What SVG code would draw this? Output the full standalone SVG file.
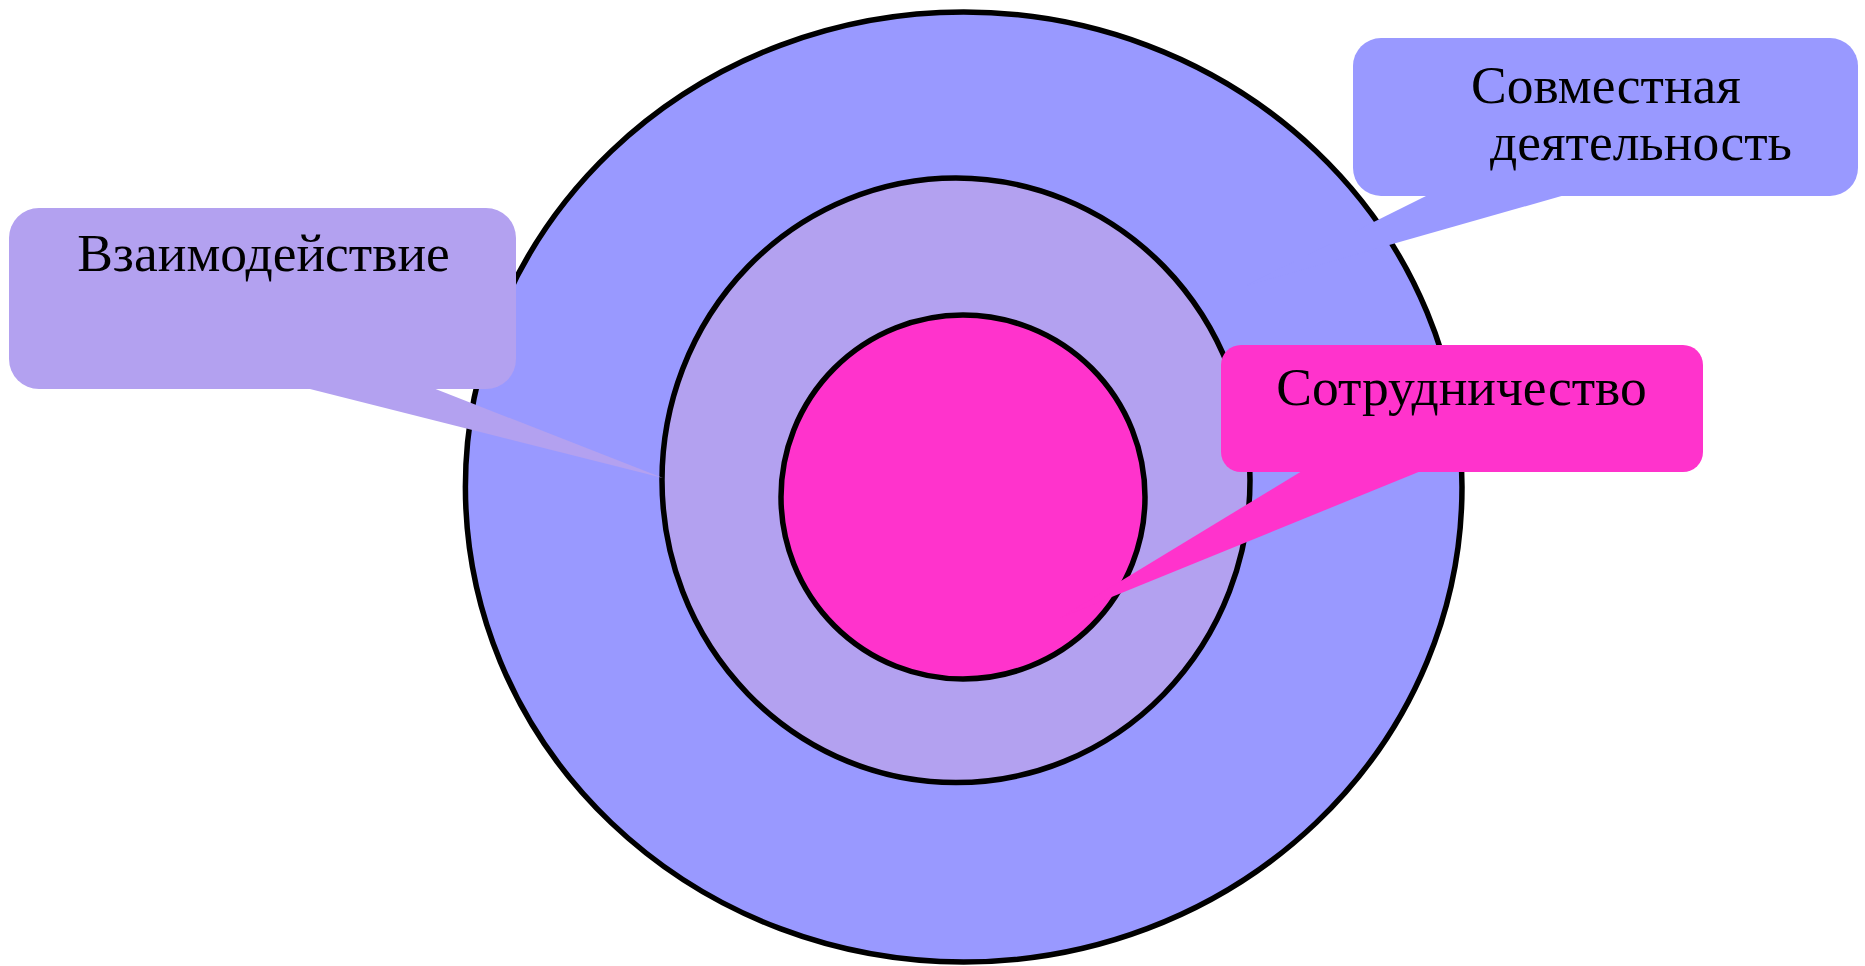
<svg xmlns="http://www.w3.org/2000/svg" width="1865" height="966" viewBox="0 0 1865 966">
<style>
.ring{stroke:#000;stroke-width:5.5}
.outer{fill:#9999FF}
.mid{fill:#B3A1F0}
.inner{fill:#FF33CC}
.lbl{font-family:"Liberation Serif","Times New Roman",serif;font-size:53.5px;fill:#000;text-anchor:middle}
</style>
<rect width="1865" height="966" fill="#fff"/>
<g id="circle-outer"><ellipse class="ring outer" cx="963.7" cy="487" rx="498.3" ry="475"/></g>
<g id="circle-middle"><ellipse class="ring mid" cx="956" cy="480.3" rx="294" ry="302.3"/></g>
<g id="circle-inner"><ellipse class="ring inner" cx="963" cy="497" rx="182" ry="182"/></g>
<g id="connectors"></g>
<g id="callout-vzaimodeistvie">
<rect class="mid" x="9" y="208" width="507" height="181" rx="30" ry="30"/>
<polygon class="mid" points="306,388 433,388 663,478"/>
<text class="lbl" x="263.5" y="271">Взаимодействие</text>
</g>
<g id="callout-sovmestnaya">
<rect class="outer" x="1353" y="38" width="505" height="158" rx="28" ry="28"/>
<polygon class="outer" points="1428,195 1565,195 1245,286"/>
<text class="lbl" x="1606" y="103">Совместная</text>
<text class="lbl" x="1641" y="160">деятельность</text>
</g>
<g id="callout-sotrudnichestvo">
<rect class="inner" x="1221" y="345" width="482" height="127" rx="20" ry="20"/>
<polygon class="inner" points="1302,471 1421,471 1060,618"/>
<text class="lbl" x="1461.5" y="405">Сотрудничество</text>
</g>
</svg>
